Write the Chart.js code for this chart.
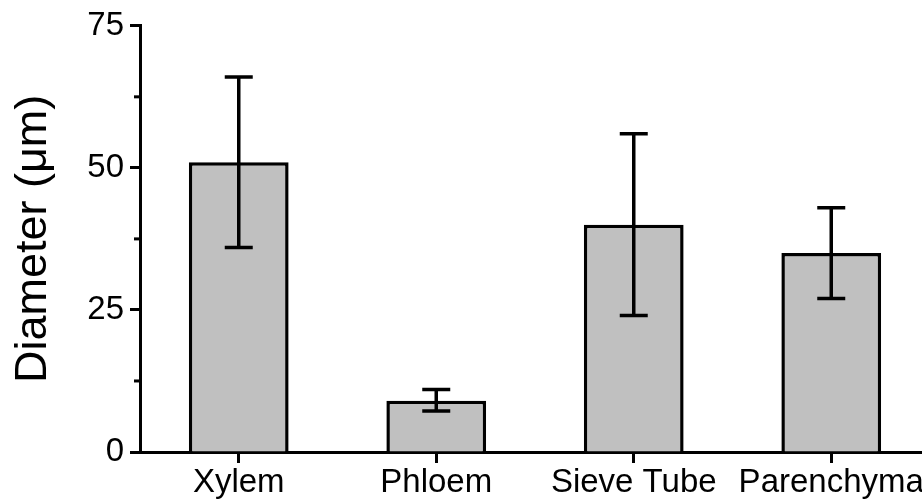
<!DOCTYPE html>
<html>
<head>
<meta charset="utf-8">
<script src="https://cdn.jsdelivr.net/npm/chart.js@4/dist/chart.umd.min.js"></script>
<style>
  html, body { margin: 0; padding: 0; background: #fff; }
  #wrap { width: 922px; height: 504px; overflow: hidden; position: relative; }
  canvas { display: block; }
</style>
</head>
<body>
<div id="wrap"><canvas id="c" width="942" height="504"></canvas></div>
<script>
const categories = ["Xylem", "Phloem", "Sieve Tube", "Parenchyma"];
const diameters = [51, 9, 40, 35];
const errLow = [36, 7.2, 24, 27];
const errHigh = [66, 11, 56, 43];
const yTicks = [0, 25, 50, 75];
const yMinorTicks = [12.5, 37.5, 62.5];

const FONT = "'Liberation Sans', Arial, Helvetica, sans-serif";

const errorBars = {
  id: 'errorBars',
  afterDatasetsDraw(chart) {
    const ctx = chart.ctx;
    const meta = chart.getDatasetMeta(0);
    const y = chart.scales.y;
    ctx.save();
    ctx.strokeStyle = '#000';
    ctx.lineWidth = 3.5;
    ctx.lineCap = 'butt';
    meta.data.forEach((bar, i) => {
      const x = bar.x;
      const yl = y.getPixelForValue(errLow[i]);
      const yh = y.getPixelForValue(errHigh[i]);
      const hw = 14;
      ctx.beginPath();
      ctx.moveTo(x, yl); ctx.lineTo(x, yh);
      ctx.moveTo(x - hw, yh); ctx.lineTo(x + hw, yh);
      ctx.moveTo(x - hw, yl); ctx.lineTo(x + hw, yl);
      ctx.stroke();
    });
    ctx.restore();
  }
};

const minorTicks = {
  id: 'minorTicks',
  afterDraw(chart) {
    const ctx = chart.ctx;
    const y = chart.scales.y;
    const x0 = chart.chartArea.left;
    ctx.save();
    ctx.strokeStyle = '#000';
    ctx.lineWidth = 3;
    yMinorTicks.forEach(v => {
      const py = y.getPixelForValue(v);
      ctx.beginPath();
      ctx.moveTo(x0 - 6, py); ctx.lineTo(x0, py);
      ctx.stroke();
    });
    ctx.restore();
  }
};

new Chart(document.getElementById('c'), {
  type: 'bar',
  data: {
    labels: categories,
    datasets: [{
      data: diameters,
      backgroundColor: '#c0c0c0',
      borderColor: '#000',
      borderWidth: 3.5,
      categoryPercentage: 1.0,
      barPercentage: 0.505
    }]
  },
  options: {
    responsive: false,
    animation: false,
    devicePixelRatio: 1,
    layout: { padding: { left: 0, right: 12, top: 24, bottom: 0 } },
    plugins: { legend: { display: false }, tooltip: { enabled: false } },
    scales: {
      x: {
        grid: { display: true, drawOnChartArea: false, drawTicks: true, tickLength: 11, tickWidth: 3, tickColor: '#000', offset: false },
        border: { display: true, color: '#000', width: 3 },
        ticks: { color: '#000', font: { family: FONT, size: 33 }, padding: 0, maxRotation: 0, autoSkip: false },
        afterFit(scale) { scale.height = 52; }
      },
      y: {
        min: 0, max: 75,
        afterBuildTicks(scale) { scale.ticks = yTicks.map(v => ({ value: v })); },
        grid: { display: true, drawOnChartArea: false, drawTicks: true, tickLength: 10, tickWidth: 3, tickColor: '#000' },
        border: { display: true, color: '#000', width: 3 },
        ticks: { color: '#000', font: { family: FONT, size: 33 }, padding: 6 },
        title: { display: true, text: 'Diameter (μm)', color: '#000', font: { family: FONT, size: 45 }, padding: { top: 7, bottom: 0 } },
        afterFit(scale) { scale.width = 140; }
      }
    }
  },
  plugins: [errorBars, minorTicks]
});
</script>
</body>
</html>
